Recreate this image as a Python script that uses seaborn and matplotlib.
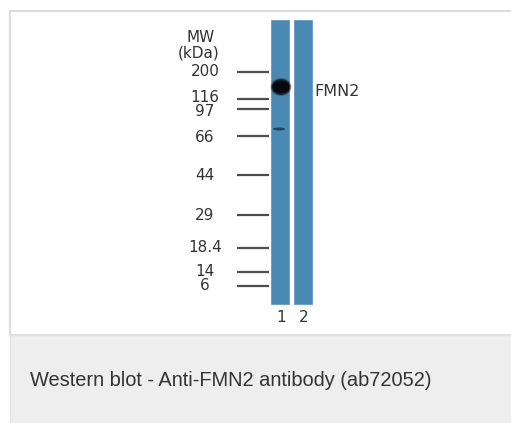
import seaborn as sns
import matplotlib.pyplot as plt
from matplotlib.patches import Rectangle, Ellipse

# molecular weight ladder (kDa) and where each marker ran (pixel row)
marker_kda = ["200", "116", "97", "66", "44", "29", "18.4", "14", "6"]
marker_y = [72, 99, 109, 136, 175, 215, 248, 272, 286]
label_y = [72, 97, 111, 137, 176, 215, 248, 271, 286]

# lanes: centre column, top of gel, lane length
lanes = ["1", "2"]
lane_x = [280, 303]
lane_top = 19
lane_len = [286, 286]

# detected bands: lane index, row, strength
band_lane = [0, 0]
band_y = [87, 129]
band_strength = [1.0, 0.45]
target = "FMN2"
caption = "Western blot - Anti-FMN2 antibody (ab72052)"

sns.set_style("white")
plt.rcParams['font.family'] = ['DejaVu Sans']

fig = plt.figure(figsize=(5.11, 4.23), dpi=100)
ax = fig.add_axes([0, 0, 1, 1])

# panel + caption box
ax.add_patch(Rectangle((10, 11), 510, 324, facecolor='white', edgecolor='#dcdcdc', lw=1.5, zorder=0))
ax.add_patch(Rectangle((10, 335), 510, 100, facecolor='#eeeeee', edgecolor='#e2e2e2', lw=1, zorder=0))

# lanes
sns.barplot(x=lane_x, y=lane_len, native_scale=True, width=0.87, bottom=lane_top,
            color='#4a89b4', saturation=1, ax=ax, zorder=2)

# bands
for li, by, s in zip(band_lane, band_y, band_strength):
    cx = lane_x[li] + 1
    if s > 0.8:
        for w, h, a in [(21, 18, 0.3), (19, 16, 0.6), (17, 13, 0.95)]:
            ax.add_patch(Ellipse((cx, by), w, h, color='#08080e', alpha=a, lw=0, zorder=3))
    else:
        ax.add_patch(Ellipse((cx - 2, by), 12, 3, color='#1a2a40', alpha=0.75, lw=0, zorder=3))

# ladder ticks and labels
ax.hlines(marker_y, 237, 269, color='#4d4d4d', lw=1.6, zorder=2)
for lab, y in zip(marker_kda, label_y):
    ax.text(205, y, lab, ha='center', va='center', fontsize=11, color='#333333')
ax.text(201, 37, "MW", ha='center', va='center', fontsize=11, color='#333333')
ax.text(199, 53, "(kDa)", ha='center', va='center', fontsize=11, color='#333333')

ax.text(314, 92, target, ha='left', va='center', fontsize=11.5, color='#333333')
for lab, x in zip(lanes, lane_x):
    ax.text(x + 1, 318, lab, ha='center', va='center', fontsize=11, color='#333333')

ax.text(30, 381, caption, ha='left', va='center', fontsize=14.4,
        family='Liberation Sans', color='#333333')

ax.set_xlim(0, 511)
ax.set_ylim(423, 0)
ax.axis('off')

fig.savefig('out.png', dpi=100)
